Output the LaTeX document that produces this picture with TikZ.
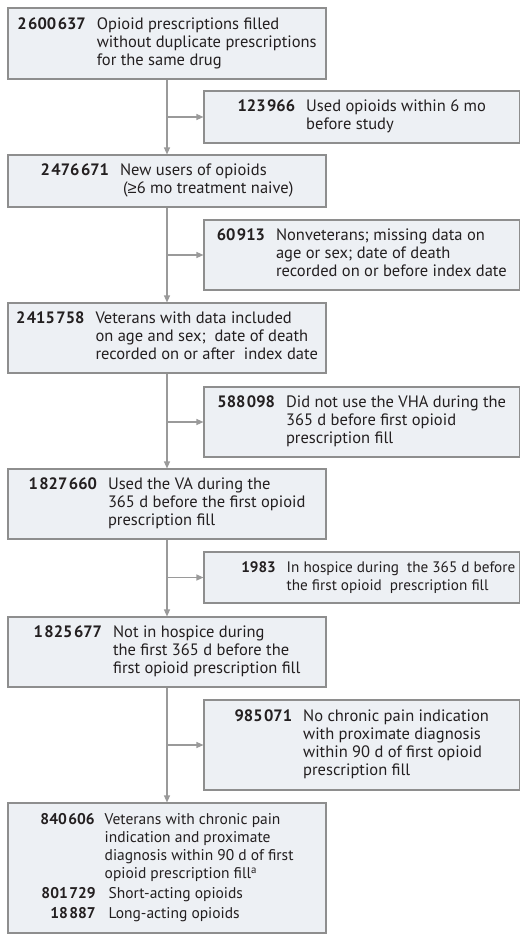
\documentclass[tikz,border=0pt]{standalone}
\usepackage{array}
\usepackage{graphicx}
\usepackage{fontspec}
\setmainfont{PT Sans}
\newfontfamily\symfont{Liberation Sans}
\usetikzlibrary{arrows.meta}
\definecolor{boxfill}{HTML}{EDF0F4}
\definecolor{boxline}{HTML}{8E8E8E}
\definecolor{connclr}{HTML}{9A9A9A}
\definecolor{txtclr}{HTML}{231F20}
\newcommand{\ts}{\hspace{1.5pt}}
\newcolumntype{N}{>{\bfseries}r}
\newenvironment{flowtab}[1][11pt]{\begin{tabular}{@{}N@{\hspace{#1}}l@{}}}{\end{tabular}}
\begin{document}
\begin{tikzpicture}[x=1pt,y=-1pt,
  basebox/.style={draw=boxline, fill=boxfill, line width=1.1pt, inner sep=0pt,
    text=txtclr, font=\fontsize{16.5}{18}\selectfont, minimum height=#1},
  mainbox/.style={basebox=#1, minimum width=318pt},
  exclbox/.style={basebox=#1, minimum width=315.5pt},
  smalltext/.style={font=\fontsize{#1}{18}\selectfont},
  conn/.style={draw=connclr, line width=1.2pt, -{Triangle[length=7pt,width=6pt]}}]
\useasboundingbox (0,0) rectangle (520,935);

\node[mainbox=71pt] (b1) at (167,43.5) {\begin{flowtab}
2\ts600\ts637 & Opioid prescriptions filled\\
 & without duplicate prescriptions\\
 & for the same drug
\end{flowtab}};

\node[exclbox=52pt] (e1) at (361.75,117) {\begin{flowtab}
123\ts966 & Used opioids within 6 mo\\
 & before study
\end{flowtab}};

\node[mainbox=52pt] (b2) at (167,181) {\begin{flowtab}
2\ts476\ts671 & New users of opioids\\
 & \hspace{3pt}({\symfont ≥}6 mo treatment naive)
\end{flowtab}};

\node[exclbox=70pt] (e2) at (361.75,255) {\begin{flowtab}
60\ts913 & Nonveterans; missing data on\\
 & age or sex; date of death\\
 & recorded on or before index date
\end{flowtab}};

\node[mainbox=70pt] (b3) at (167,338) {\begin{flowtab}
2\ts415\ts758 & Veterans with data included\\
 & on age and sex;\ \ date of death\\
 & recorded on or after\ \ index date
\end{flowtab}};

\node[exclbox=70pt] (e3) at (361.75,422) {\begin{flowtab}
588\ts098 & Did not use the VHA during the\\
 & 365 d before first opioid\\
 & prescription fill
\end{flowtab}};

\node[mainbox=70pt] (b4) at (167,504) {\begin{flowtab}
1\ts827\ts660 & Used the VA during the\\
 & 365 d before the first opioid\\
 & prescription fill
\end{flowtab}};

\node[exclbox=51pt, smalltext=15.2] (e4) at (361.75,577.5) {\hspace*{33pt}\begin{flowtab}
1983 & In hospice during\ \ the 365 d before\\
 & the first opioid\ \ prescription fill
\end{flowtab}};

\node[mainbox=70pt] (b5) at (167,652) {\begin{flowtab}
1\ts825\ts677 & Not in hospice during\\
 & the first 365 d before the\\
 & first opioid prescription fill
\end{flowtab}};

\node[exclbox=90pt] (e5) at (361.75,745) {\begin{flowtab}
985\ts071 & No chronic pain indication\\
 & with proximate diagnosis\\
 & within 90 d of first opioid\\
 & prescription fill
\end{flowtab}};

\node[mainbox=130pt, smalltext=15.5] (b6) at (167,868) {\begin{flowtab}[10pt]
840\ts606 & Veterans with chronic pain\\
 & indication and proximate\\
 & diagnosis within 90 d of first\\
 & opioid prescription fill\textsuperscript{a}\\[2pt]
801\ts729\hspace{-1pt} & \hspace{4pt}Short-acting opioids\\[2pt]
18\ts887\hspace{-1pt} & \hspace{4pt}Long-acting opioids
\end{flowtab}};

\draw[conn] (b1.south) -- (b2.north);
\draw[conn] (b1.south |- e1.west) -- (e1.west);
\draw[conn] (b2.south) -- (b3.north);
\draw[conn] (b2.south |- e2.west) -- (e2.west);
\draw[conn] (b3.south) -- (b4.north);
\draw[conn] (b3.south |- e3.west) -- (e3.west);
\draw[conn] (b4.south) -- (b5.north);
\draw[conn] (b4.south |- e4.west) -- (e4.west);
\draw[conn] (b5.south) -- (b6.north);
\draw[conn] (b5.south |- e5.west) -- (e5.west);
\end{tikzpicture}
\end{document}
